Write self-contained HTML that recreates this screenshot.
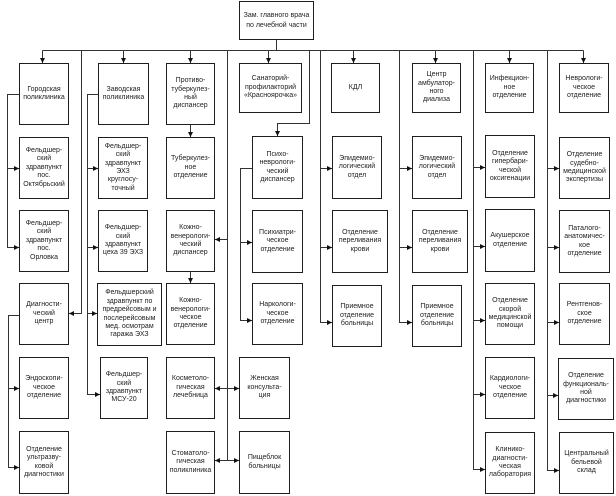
<!DOCTYPE html>
<html><head><meta charset="utf-8">
<style>
html,body{margin:0;padding:0;background:#fff;}
#c{position:relative;width:616px;height:496px;overflow:hidden;background:#fff;}
.b{position:absolute;box-sizing:border-box;border:1px solid #1e1e1e;background:#fff;display:flex;align-items:center;justify-content:center;text-align:center;font-family:"Liberation Sans",Arial,sans-serif;font-size:7px;line-height:8.4px;color:#222;white-space:nowrap;}
svg{position:absolute;left:0;top:0;}
</style></head><body>
<div id="c">
<div class="b" style="left:239px;top:1px;width:75px;height:39px;line-height:10px;">Зам. главного врача<br>по лечебной части</div>

<div class="b" style="left:19px;top:63px;width:50px;height:62px;">Городская<br>поликлиника</div>
<div class="b" style="left:98px;top:63px;width:51px;height:62px;">Заводская<br>поликлиника</div>
<div class="b" style="left:166px;top:63px;width:49px;height:62px;">Противо-<br>туберкулез-<br>ный<br>диспансер</div>
<div class="b" style="left:239px;top:63px;width:63px;height:50px;">Санаторий-<br>профилакторий<br>«Красноярочка»</div>
<div class="b" style="left:331px;top:63px;width:49px;height:50px;">КДЛ</div>
<div class="b" style="left:412px;top:63px;width:49px;height:50px;">Центр<br>амбулатор-<br>ного<br>диализа</div>
<div class="b" style="left:485px;top:63px;width:49px;height:50px;">Инфекцион-<br>ное<br>отделение</div>
<div class="b" style="left:559px;top:63px;width:50px;height:50px;">Неврологи-<br>ческое<br>отделение</div>

<div class="b" style="left:19px;top:137px;width:50px;height:62px;">Фельдшер-<br>ский<br>здравпункт<br>пос.<br>Октябрьский</div>
<div class="b" style="left:19px;top:210px;width:50px;height:62px;">Фельдшер-<br>ский<br>здравпункт<br>пос.<br>Орловка</div>
<div class="b" style="left:19px;top:283px;width:50px;height:62px;">Диагности-<br>ческий<br>центр</div>
<div class="b" style="left:19px;top:357px;width:50px;height:62px;">Эндоскопи-<br>ческое<br>отделение</div>
<div class="b" style="left:19px;top:431px;width:50px;height:63px;">Отделение<br>ультразву-<br>ковой<br>диагностики</div>

<div class="b" style="left:98px;top:137px;width:50px;height:62px;">Фельдшер-<br>ский<br>здравпункт<br>ЭХЗ<br>круглосу-<br>точный</div>
<div class="b" style="left:98px;top:210px;width:50px;height:62px;">Фельдшер-<br>ский<br>здравпункт<br>цеха 39 ЭХЗ</div>
<div class="b" style="left:97px;top:283px;width:65px;height:63px;">Фельдшерский<br>здравпункт по<br>предрейсовым и<br>послерейсовым<br>мед. осмотрам<br>гаража ЭХЗ</div>
<div class="b" style="left:100px;top:357px;width:48px;height:62px;">Фельдшер-<br>ский<br>здравпункт<br>МСУ-20</div>

<div class="b" style="left:166px;top:137px;width:49px;height:62px;">Туберкулез-<br>ное<br>отделение</div>
<div class="b" style="left:166px;top:210px;width:49px;height:62px;">Кожно-<br>венерологи-<br>ческий<br>диспансер</div>
<div class="b" style="left:166px;top:283px;width:49px;height:62px;">Кожно-<br>венерологи-<br>ческое<br>отделение</div>
<div class="b" style="left:166px;top:357px;width:49px;height:62px;">Косметоло-<br>гическая<br>лечебница</div>
<div class="b" style="left:166px;top:431px;width:49px;height:63px;">Стоматоло-<br>гическая<br>поликлиника</div>

<div class="b" style="left:252px;top:136px;width:51px;height:63px;">Психо-<br>неврологи-<br>ческий<br>диспансер</div>
<div class="b" style="left:252px;top:210px;width:51px;height:63px;">Психиатри-<br>ческое<br>отделение</div>
<div class="b" style="left:252px;top:283px;width:51px;height:62px;">Наркологи-<br>ческое<br>отделение</div>
<div class="b" style="left:239px;top:357px;width:51px;height:62px;">Женская<br>консульта-<br>ция</div>
<div class="b" style="left:239px;top:431px;width:51px;height:63px;">Пищеблок<br>больницы</div>

<div class="b" style="left:332px;top:136px;width:50px;height:63px;">Эпидемио-<br>логический<br>отдел</div>
<div class="b" style="left:332px;top:210px;width:56px;height:63px;">Отделение<br>переливания<br>крови</div>
<div class="b" style="left:332px;top:285px;width:50px;height:62px;">Приемное<br>отделение<br>больницы</div>

<div class="b" style="left:412px;top:136px;width:50px;height:63px;">Эпидемио-<br>логический<br>отдел</div>
<div class="b" style="left:412px;top:210px;width:56px;height:63px;">Отделение<br>переливания<br>крови</div>
<div class="b" style="left:412px;top:285px;width:50px;height:62px;">Приемное<br>отделение<br>больницы</div>

<div class="b" style="left:485px;top:135px;width:50px;height:63px;">Отделение<br>гипербари-<br>ческой<br>оксигенации</div>
<div class="b" style="left:485px;top:209px;width:50px;height:63px;">Акушерское<br>отделение</div>
<div class="b" style="left:485px;top:283px;width:50px;height:62px;">Отделение<br>скорой<br>медицинской<br>помощи</div>
<div class="b" style="left:485px;top:357px;width:50px;height:62px;">Кардиологи-<br>ческое<br>отделение</div>
<div class="b" style="left:485px;top:432px;width:50px;height:62px;">Клинико-<br>диагности-<br>ческая<br>лаборатория</div>

<div class="b" style="left:559px;top:137px;width:51px;height:62px;">Отделение<br>судебно-<br>медицинской<br>экспертизы</div>
<div class="b" style="left:559px;top:210px;width:51px;height:63px;">Паталого-<br>анатомичес-<br>кое<br>отделение</div>
<div class="b" style="left:559px;top:283px;width:51px;height:62px;">Рентгенов-<br>ское<br>отделение</div>
<div class="b" style="left:558px;top:358px;width:56px;height:62px;">Отделение<br>функциональ-<br>ной<br>диагностики</div>
<div class="b" style="left:559px;top:432px;width:55px;height:62px;">Центральный<br>бельевой<br>склад</div>

<svg width="616" height="496" viewBox="0 0 616 496" xmlns="http://www.w3.org/2000/svg">
<defs>
<marker id="a" markerUnits="userSpaceOnUse" markerWidth="5" markerHeight="5" viewBox="0 0 5 5" refX="5" refY="2.5" orient="auto">
<path d="M0,0 L5,2.5 L0,5 Z" fill="#111"/>
</marker>
</defs>
<g fill="none" stroke="#333" stroke-width="1">
<path d="M276.5 40 V50.5"/>
<path d="M42.5 50.5 H583.5"/>
</g>
<g fill="none" stroke="#333" stroke-width="1" marker-end="url(#a)">
<path d="M42.5 50.5 V63"/>
<path d="M123.5 50.5 V63"/>
<path d="M190.5 50.5 V63"/>
<path d="M268.5 50.5 V63"/>
<path d="M353.5 50.5 V63"/>
<path d="M435.5 50.5 V63"/>
<path d="M509.5 50.5 V63"/>
<path d="M583.5 50.5 V63"/>

<path d="M19 94.5 H7.5 V247.5 H19"/>
<path d="M7.5 168.5 H19"/>
<path d="M81.5 50.5 V313.5 H69"/>
<path d="M19 315.5 H8.5 V467.5 H19"/>
<path d="M8.5 388.5 H19"/>

<path d="M98 94.5 H87.5 V394.5 H100"/>
<path d="M87.5 168.5 H98"/>
<path d="M87.5 247.5 H98"/>
<path d="M87.5 313.5 H97"/>

<path d="M190.5 125 V137"/>
<path d="M190.5 272 V283"/>

<path d="M227.5 50.5 V460.5 H215"/>
<path d="M227.5 239.5 H215"/>
<path d="M227.5 388.5 H215"/>
<path d="M227.5 388.5 H239"/>
<path d="M227.5 460.5 H239"/>

<path d="M309.5 50.5 V123.5 H277.5 V136"/>
<path d="M252 168.5 H240.5 V320.5 H252"/>
<path d="M240.5 242.5 H252"/>

<path d="M320.5 50.5 V322.5 H332"/>
<path d="M320.5 168.5 H332"/>
<path d="M320.5 247.5 H332"/>

<path d="M399.5 50.5 V322.5 H412"/>
<path d="M399.5 168.5 H412"/>
<path d="M399.5 247.5 H412"/>

<path d="M473.5 50.5 V469.5 H485"/>
<path d="M473.5 167.5 H485"/>
<path d="M473.5 246.5 H485"/>
<path d="M473.5 320.5 H485"/>
<path d="M473.5 394.5 H485"/>

<path d="M547.5 50.5 V470.5 H559"/>
<path d="M547.5 168.5 H559"/>
<path d="M547.5 247.5 H559"/>
<path d="M547.5 322.5 H559"/>
<path d="M547.5 395.5 H558"/>
</g>
</svg>
</div>
</body></html>
